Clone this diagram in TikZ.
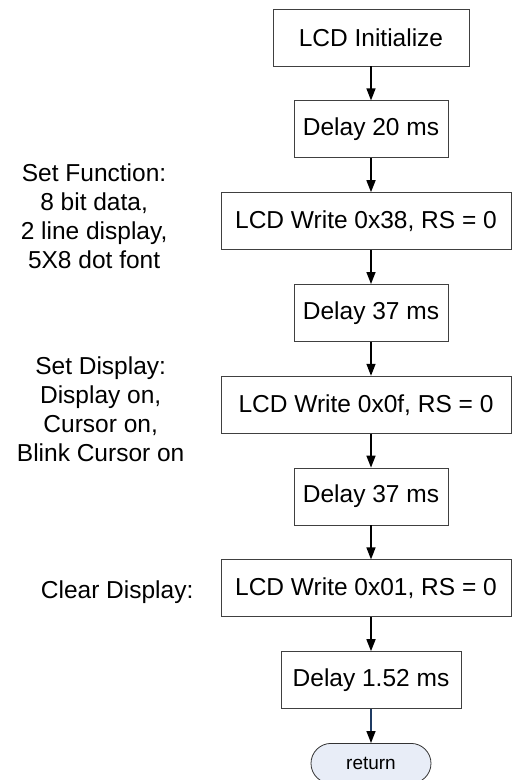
\documentclass[tikz,border=0pt]{standalone}
\usepackage{fontspec}
\setmainfont{Liberation Sans}
\usepackage{tikz}
\usetikzlibrary{
	positioning,
	arrows.meta
}
\definecolor{retfill}{HTML}{E8EDF7}
\definecolor{retline}{HTML}{1F3B63}

\begin{document}
\begin{tikzpicture}[node distance=34pt,
		every node/.style={font=\fontsize{24.5}{29}\selectfont},
		proc/.style={draw=black!75,line width=0.8pt,minimum height=57pt,inner sep=0pt},
		note/.style={align=center,inner sep=0pt},
		term/.style={draw=black!80,line width=0.8pt,fill=retfill,rounded corners=20pt,
			minimum width=120pt,minimum height=40pt,inner sep=0pt,font=\fontsize{19}{22}\selectfont},
		flow/.style={-{Triangle[length=12pt,width=9pt]},line width=1.5pt}]
		\useasboundingbox (0,0) rectangle (513pt,-780pt);
		\draw
			node[proc,minimum width=196pt] at (371pt,-37.5pt) (init) {LCD Initialize}
			node[proc,minimum width=154pt,below=of init]            (d20)  {Delay 20 ms}
			node[proc,minimum width=290pt,below=of d20,xshift=-5pt] (w38)  {LCD Write 0x38, RS = 0}
			node[proc,minimum width=154pt,below=of w38,xshift=5pt]  (d37a) {Delay 37 ms}
			node[proc,minimum width=290pt,below=of d37a,xshift=-5pt](w0f)  {LCD Write 0x0f, RS = 0}
			node[proc,minimum width=154pt,below=of w0f,xshift=5pt]  (d37b) {Delay 37 ms}
			node[proc,minimum width=290pt,below=of d37b,xshift=-5pt](w01)  {LCD Write 0x01, RS = 0}
			node[proc,minimum width=180pt,below=of w01,xshift=5pt]  (d152) {Delay 1.52 ms}
			node[term,below=of d152]                                (ret)  {return}

			node[note,left=53pt of w38,yshift=4.5pt]  (fn)  {Set Function:\\8 bit data,\\2 line display,\\5X8 dot font}
			node[note,left=36pt of w0f,yshift=-4.5pt] (dsp) {Set Display:\\Display on,\\Cursor on,\\Blink Cursor on}
			node[note,left=27pt of w01,yshift=-3.5pt] (clr) {Clear Display:}

			(init.south)           edge[flow] (d20.north)
			(d20.south)            edge[flow] (d20.south |- w38.north)
			(d37a.north |- w38.south) edge[flow] (d37a.north)
			(d37a.south)           edge[flow] (d37a.south |- w0f.north)
			(d37b.north |- w0f.south) edge[flow] (d37b.north)
			(d37b.south)           edge[flow] (d37b.south |- w01.north)
			(d152.north |- w01.south) edge[flow] (d152.north)
			(d152.south)           edge[flow,draw=retline,-{Triangle[length=12pt,width=9pt,color=black]}] (ret.north)
		;
\end{tikzpicture}
\end{document}
